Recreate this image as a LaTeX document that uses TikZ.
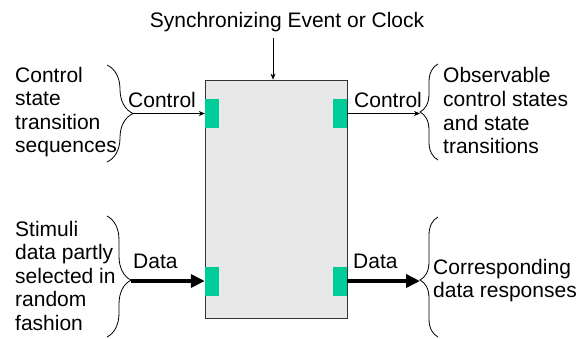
\documentclass[tikz,border=0pt]{standalone}
\usepackage{fontspec}
\setmainfont{Liberation Sans}
\usepackage{tikz}
\usetikzlibrary{arrows.meta,decorations.pathreplacing}
\definecolor{boxfill}{HTML}{E8E8E8}
\definecolor{edge}{HTML}{333333}
\definecolor{pad}{HTML}{00CC99}
\newcommand\lbl{\fontsize{21}{23.6}\selectfont}
\tikzset{
  dutbox/.style={draw=edge, fill=boxfill, line width=0.8pt, minimum width=142pt, minimum height=238pt, inner sep=0pt},
  port/.style={fill=pad, minimum width=14pt, minimum height=29pt, inner sep=0pt},
  sig/.style={draw=black, line width=0.7pt, -{Stealth[length=6pt,width=5pt]}},
  bus/.style={draw=black, line width=4pt, -{Triangle[length=14pt,width=13pt]}},
  brc/.style={draw=black, line width=0.8pt, decorate, decoration={brace, amplitude=#1, aspect=0.5}},
  lab/.style={font=\lbl, inner sep=0pt, anchor=base west},
  txt/.style={font=\lbl, align=left, inner sep=0pt, anchor=north west},
}

\begin{document}
\begin{tikzpicture}[x=1pt,y=-1pt]
  \useasboundingbox (0,0) rectangle (585,338);
  % block under test with its four ports
  \node[dutbox] (dut) at (276,199) {};
  \node[port] (cin)  at (212,113.5) {};
  \node[port] (cout) at (340,113.5) {};
  \node[port] (din)  at (212,281) {};
  \node[port] (dout) at (340,281) {};
  % clock from above
  \node[font=\lbl, inner sep=0pt, anchor=base] (clk) at (287,27) {Synchronizing Event or Clock};
  \draw[sig] ([xshift=-3pt,yshift=-6pt]clk.south -| dut.north) -- ([xshift=-3pt]dut.north);
  % braces, tips kept as coordinates
  \draw[brc=26] (107,65) -- (107,162);
  \coordinate (ctlsrc) at (133,113.5);
  \draw[brc=24, decoration={aspect=0.53}] (107,216) -- (107,337);
  \coordinate (datsrc) at (131,281);
  \draw[brc=18] (438,160) -- (438,64);
  \coordinate (ctlsnk) at (420,113.5);
  \draw[brc=18, decoration={aspect=0.475}] (438,337) -- (438,217);
  \coordinate (datsnk) at (420,281);
  % control and data paths
  \draw[sig] (ctlsrc) -- (cin.west);
  \draw[sig] (cout.east) -- (ctlsnk);
  \draw[bus] (datsrc) -- (din.west);
  \draw[bus] (dout.east) -- (datsnk);
  \node[lab] (cinlab)  at (128,107) {Control};
  \node[lab] (coutlab) at (354,107) {Control};
  \node[lab] (dinlab)  at (133,268) {Data};
  \node[lab] (doutlab) at (353,268) {Data};
  % descriptions
  \node[txt] (ctltxt) at (15,66.7) {Control\\state\\transition\\sequences};
  \node[txt] (obstxt) at (443,67.4) {Observable\\control states\\and state\\transitions};
  \node[txt] (stimtxt) at (15,220.7) {Stimuli\\data partly\\selected in\\random\\fashion};
  \node[txt] (resptxt) at (433,258.7) {Corresponding\\data responses};
\end{tikzpicture}
\end{document}
